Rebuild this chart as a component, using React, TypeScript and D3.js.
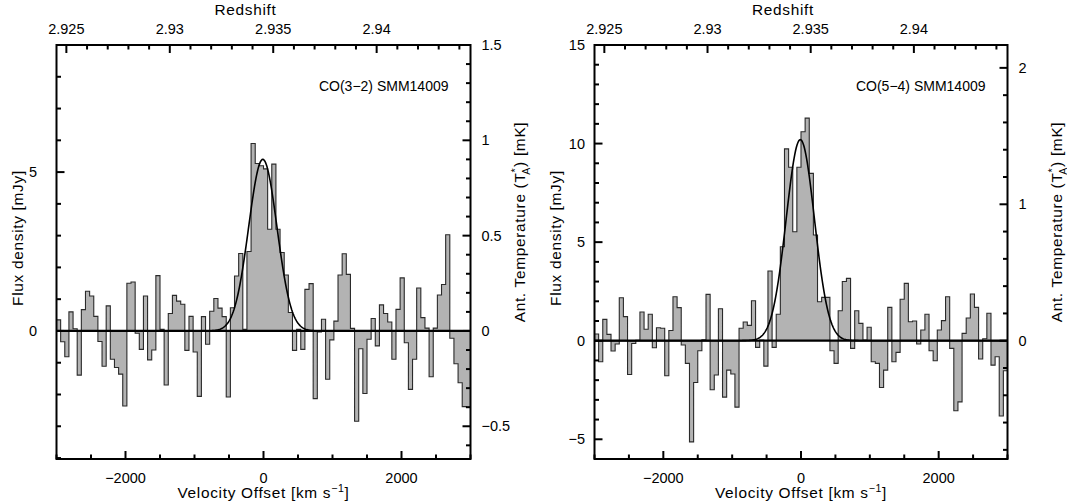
import { useEffect, useRef } from "react";
import * as d3 from "d3";

// spectra: 60 km/s channels from -3000 to +3000 km/s, flux density in mJy
const CHANNEL_WIDTH = 60;
const VEL_MIN = -3000;
const VEL_MAX = 3000;
const Z_SYSTEMIC = 2.93453;
const C_KMS = 299792.458;

const co32Flux = [
  0.35, -0.34, -0.81, 0.6, 0.07, -1.39, 0.67, 1.25, 1.1, 0.46,
  -0.33, -1.11, 0.79, -0.89, -1.15, -1.36, -2.36, 1.5, 1.54, -0.07,
  -0.58, 1.1, -0.91, -0.6, 1.74, 0.05, -1.7, 0.55, 1.12, 0.94,
  0.84, -0.61, 0.46, -0.66, -2.06, 0.45, -0.42, 0.62, 1.02, 0.72,
  0.45, -2.08, 0.73, 1.73, 2.44, 0.05, 2.5, 5.9, 5.27, 5.2,
  5.1, 3.2, 5.25, 3.2, 2.47, 1.76, 0.58, -0.61, 0.05, -0.58,
  1.31, 1.49, -2.13, -0.03, 0.37, -1.52, -0.28, 0.31, 1.76, 2.43,
  1.78, 0.08, -2.84, -0.56, -1.97, -0.26, 0.39, -0.47, 0.82, 0.55,
  0.28, -0.89, 0.68, 1.67, -0.37, -1.84, -0.89, 1.35, 0.42, 0.09,
  -1.44, 0.09, 1.13, 1.46, 3.03, -0.23, -1.03, -1.63, -2.38, -2.4,
];

const co54Flux = [
  0.34, -1.07, 1.08, 0.32, -0.52, -0.17, 2.18, 1.22, -1.71, -0.14,
  0.02, 1.46, 0.58, 1.34, -0.36, 0.66, 0.63, -1.78, 0.52, 2.23,
  1.68, -0.22, -1.15, -5.13, -2.12, -0.51, 0.05, 2.35, -2.49, -1.74,
  1.62, -2.86, -1.49, -1.69, -3.37, 0.63, 0.95, 0.78, 2.03, -0.34,
  0.03, -1.29, 3.54, -0.34, 1.34, 4.77, 9.73, 8.8, 5.53, 8.8,
  10.6, 11.29, 8.49, 5.36, 1.98, 2.2, 2.2, -0.51, -1.15, 1.52,
  3.0, 3.16, -0.39, 1.52, 0.88, 0.03, 0.68, -1.07, -1.15, -2.37,
  -1.49, 1.69, -1.07, -0.59, 2.1, 2.91, 0.96, 1.0, -0.17, 0.54,
  1.34, -0.51, -1.02, 0.54, 1.02, 2.23, -0.39, -3.55, -3.1, 0.37,
  1.15, 2.37, 1.69, -0.93, 0.1, 1.39, -1.24, -0.81, -3.82, -1.52,
];

// gaussian fits: amplitude (mJy), centre (km/s), sigma (km/s)
const co32Fit = [5.4, -10, 205];
const co54Fit = [10.2, -10, 205];

const velocityTicks = [-2000, 0, 2000];
const velocityLabels = ["\u22122000", "0", "2000"];
const redshiftTicks = [2.925, 2.93, 2.935, 2.94];
const redshiftLabels = ["2.925", "2.93", "2.935", "2.94"];

const co32FluxTicks = [0, 5];
const co32TempTicks = [-0.5, 0, 0.5, 1, 1.5];
const co32TempLabels = ["\u22120.5", "0", "0.5", "1", "1.5"];
const co54FluxTicks = [-5, 0, 5, 10, 15];
const co54FluxLabels = ["\u22125", "0", "5", "10", "15"];
const co54TempTicks = [0, 1, 2];

const FONT = "'Liberation Sans', Arial, Helvetica, sans-serif";
const TITLE_SIZE = 15.4;
const TITLE_SPACING = 0.7;

function drawPanel(svg, p) {
    const g = svg.append("g");
    const x = d3.scaleLinear().domain([VEL_MIN, VEL_MAX]).range([p.x0, p.x1]);
    const y = d3.scaleLinear().domain(p.fluxDomain).range([p.y1, p.y0]);
    const yT = d3.scaleLinear().domain(p.fluxDomain.map(d => d / p.mJyPerMk)).range([p.y1, p.y0]);
    const xz = (z) => x((z - Z_SYSTEMIC) * C_KMS);

    // step histogram points (left edges + closing point)
    const pts = p.flux.map((f, i) => [VEL_MIN + i * CHANNEL_WIDTH, f]);
    pts.push([VEL_MIN + p.flux.length * CHANNEL_WIDTH, p.flux[p.flux.length - 1]]);

    const area = d3.area()
        .x(d => x(d[0]))
        .y0(y(0))
        .y1(d => y(d[1]))
        .curve(d3.curveStepAfter);
    g.append("path").datum(pts).attr("d", area).attr("fill", "#b3b3b3");

    const line = d3.line().x(d => x(d[0])).y(d => y(d[1])).curve(d3.curveStepAfter);
    g.append("path").datum(pts).attr("d", line)
        .attr("fill", "none").attr("stroke", "#2a2a2a").attr("stroke-width", 1.1);

    // zero line
    g.append("line").attr("x1", p.x0).attr("x2", p.x1).attr("y1", y(0)).attr("y2", y(0))
        .attr("stroke", "#000").attr("stroke-width", 2.2);

    // gaussian fit
    const [amp, mu, sig] = p.fit;
    const vs = d3.range(VEL_MIN, VEL_MAX + 1, 10);
    const fitLine = d3.line().x(v => x(v)).y(v => y(amp * Math.exp(-((v - mu) ** 2) / (2 * sig * sig))));
    g.append("path").datum(vs).attr("d", fitLine)
        .attr("fill", "none").attr("stroke", "#000").attr("stroke-width", 1.6);

    // frame
    g.append("rect").attr("x", p.x0).attr("y", p.y0)
        .attr("width", p.x1 - p.x0).attr("height", p.y1 - p.y0)
        .attr("fill", "none").attr("stroke", "#000").attr("stroke-width", 2);

    const tick = (x1, y1, x2, y2) => g.append("line")
        .attr("x1", x1).attr("y1", y1).attr("x2", x2).attr("y2", y2)
        .attr("stroke", "#000").attr("stroke-width", 2);
    const MAJ = 8, MIN = 4.5;

    // bottom velocity ticks
    d3.range(-6, 7).map(i => i * 500).forEach(v => {
        const len = v % 2000 === 0 ? MAJ : MIN;
        tick(x(v), p.y1, x(v), p.y1 - len);
    });
    // top redshift ticks
    d3.range(2925, 2945).map(i => i / 1000).forEach(z => {
        const xx = xz(z);
        if (xx < p.x0 || xx > p.x1) return;
        const len = Math.round(z * 1000) % 5 === 0 ? MAJ : MIN;
        tick(xx, p.y0, xx, p.y0 + len);
    });
    // left flux ticks
    d3.range(Math.ceil(p.fluxDomain[0]), Math.floor(p.fluxDomain[1]) + 1).forEach(f => {
        const len = f % 5 === 0 ? MAJ : MIN;
        tick(p.x0, y(f), p.x0 + len, y(f));
    });
    // right temperature ticks
    const tDom = yT.domain();
    d3.range(Math.ceil(tDom[0] / p.tStep - 1e-6), Math.floor(tDom[1] / p.tStep + 1e-6) + 1).forEach(i => {
        const t = i * p.tStep;
        const major = p.tempTicks.some(m => Math.abs(m - t) < 1e-6);
        tick(p.x1, yT(t), p.x1 - (major ? MAJ : MIN), yT(t));
    });

    const text = (tx, ty, s, anchor = "middle", size = 14.5) => g.append("text")
        .attr("x", tx).attr("y", ty).attr("text-anchor", anchor)
        .attr("font-family", FONT).attr("font-size", size).attr("fill", "#000").text(s);

    velocityTicks.forEach((v, i) => text(x(v), 483, velocityLabels[i]));
    redshiftTicks.forEach((z, i) => text(xz(z), 33.5, redshiftLabels[i]));
    p.fluxTicks.forEach((f, i) => text(p.fluxLabelX, y(f) + 5, p.fluxLabels[i], "end"));
    p.tempTicks.forEach((t, i) => text(p.x1 + 11, yT(t) + 5, p.tempLabels[i], "start"));

    text((p.x0 + p.x1) / 2 - 18, 15, "Redshift", "middle", TITLE_SIZE)
        .attr("letter-spacing", TITLE_SPACING);
    const vt = text((p.x0 + p.x1) / 2, 498, "Velocity Offset [km s", "middle", TITLE_SIZE)
        .attr("letter-spacing", TITLE_SPACING);
    vt.append("tspan").attr("dy", -6).attr("font-size", 10.5).text("\u22121");
    vt.append("tspan").attr("dy", 6).text("]");

    text(p.x1 - 22, 91, p.label, "end", 14);

    g.append("text")
        .attr("transform", `translate(${p.x0 - 34},${(p.y0 + p.y1) / 2 - 14}) rotate(-90)`)
        .attr("text-anchor", "middle").attr("font-family", FONT).attr("font-size", TITLE_SIZE)
        .attr("letter-spacing", TITLE_SPACING)
        .text("Flux density [mJy]");

    const tt = g.append("text")
        .attr("transform", `translate(${p.x1 + 54},${(p.y0 + p.y1) / 2 - 30}) rotate(-90)`)
        .attr("text-anchor", "middle").attr("font-family", FONT).attr("font-size", TITLE_SIZE)
        .attr("letter-spacing", TITLE_SPACING);
    tt.append("tspan").text("Ant. Temperature (T");
    tt.append("tspan").attr("dy", -6).attr("font-size", 10.5).text("*");
    tt.append("tspan").attr("dy", 11).attr("dx", -7).attr("font-size", 10.5).text("A");
    tt.append("tspan").attr("dy", -5).text(") [mK]");
}

export default function App() {
    const svgRef = useRef(null);

    useEffect(() => {
        if (!svgRef.current) return;
        document.body.style.margin = "0";
        const svg = d3.select(svgRef.current);
        svg.selectAll("*").remove();

        drawPanel(svg, {
            x0: 56.5, x1: 470.5, y0: 45, y1: 459,
            flux: co32Flux, fit: co32Fit, fluxDomain: [-4.03, 9.0], mJyPerMk: 6,
            tStep: 0.1, tempTicks: co32TempTicks, tempLabels: co32TempLabels,
            fluxTicks: co32FluxTicks, fluxLabels: co32FluxTicks.map(String), fluxLabelX: 37,
            label: "CO(3\u22122) SMM14009",
        });
        drawPanel(svg, {
            x0: 594.5, x1: 1007.5, y0: 45, y1: 459,
            flux: co54Flux, fit: co54Fit, fluxDomain: [-6, 15], mJyPerMk: 6.92,
            tStep: 0.2, tempTicks: co54TempTicks, tempLabels: co54TempTicks.map(String),
            fluxTicks: co54FluxTicks, fluxLabels: co54FluxLabels, fluxLabelX: 585,
            label: "CO(5\u22124) SMM14009",
        });
    }, []);

    return (
        <svg ref={svgRef} width={1067} height={504}
             style={{position: "absolute", left: 0, top: 0, background: "#fff"}}/>
    );
}
